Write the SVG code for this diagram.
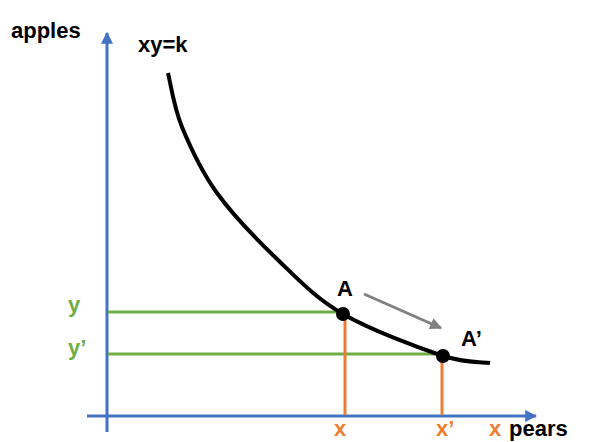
<svg xmlns="http://www.w3.org/2000/svg" width="600" height="442" viewBox="0 0 600 442">
<defs>
<style>
.lbl{font-family:"Liberation Sans",Arial,sans-serif;font-weight:bold;font-size:22px;fill:#000}
.g{fill:#70AD47}
.o{fill:#ED7D31}
.axis{stroke:#4472C4;stroke-width:3;fill:none}
.gl{stroke:#70AD47;stroke-width:3;fill:none}
.ol{stroke:#ED7D31;stroke-width:3;fill:none}
</style>
<marker id="ba" viewBox="0 0 10 10" refX="9" refY="5" markerWidth="4" markerHeight="4" orient="auto" markerUnits="strokeWidth">
<path d="M0,0 L10,5 L0,10 z" fill="#4472C4"/>
</marker>
<marker id="ga" viewBox="0 0 10 10" refX="9" refY="5" markerWidth="4" markerHeight="4" orient="auto" markerUnits="strokeWidth">
<path d="M0,0 L10,5 L0,10 z" fill="#808080"/>
</marker>
</defs>
<rect width="600" height="442" fill="#fff"/>
<g id="connectors">
<line id="y-axis" class="axis" x1="107" y1="432" x2="107" y2="33" marker-end="url(#ba)"/>
<line id="x-axis" class="axis" x1="87" y1="416" x2="536" y2="416" marker-end="url(#ba)"/>
<line class="gl" x1="108" y1="312" x2="343" y2="312"/>
<line class="gl" x1="108" y1="354" x2="442" y2="354"/>
<line class="ol" x1="345" y1="314" x2="345" y2="415"/>
<line class="ol" x1="442" y1="356" x2="442" y2="415"/>
<line id="move" x1="364" y1="294" x2="441" y2="328" stroke="#808080" stroke-width="3" marker-end="url(#ga)"/>
</g>
<g id="curve">
<path d="M168,73 C170.3,82 173.8,107 182,127 C190.2,147 201,170.8 217,193 C233,215.2 257,239.8 278,260 C299,280.2 315.5,298 343,314 C370.5,330 418.5,347.8 443,356 C467.5,363.5 482,361.8 490,363" fill="none" stroke="#000" stroke-width="4"/>
</g>
<g id="pointA"><circle cx="343" cy="314" r="7" fill="#000"/><text class="lbl" x="337" y="296">A</text></g>
<g id="pointA2"><circle cx="443" cy="356" r="7" fill="#000"/><text class="lbl" x="461" y="346">A’</text></g>
<g id="labels">
<text class="lbl" x="11" y="38">apples</text>
<text class="lbl" x="138" y="52">xy=k</text>
<text class="lbl g" x="68" y="312">y</text>
<text class="lbl g" x="68" y="355">y’</text>
<text class="lbl o" x="334" y="436">x</text>
<text class="lbl o" x="436" y="436">x’</text>
<text class="lbl o" x="489" y="436" font-size="16">x</text>
<text class="lbl" x="509" y="436">pears</text>
</g>
</svg>
